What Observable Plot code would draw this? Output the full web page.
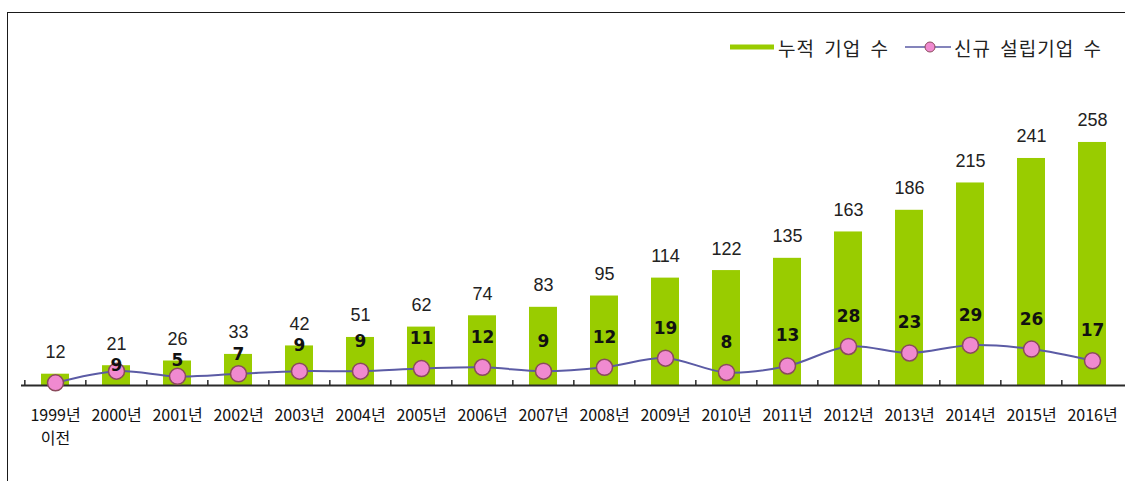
<!DOCTYPE html>
<html>
<head>
<meta charset="utf-8">
<script src="https://cdn.jsdelivr.net/npm/d3@7"></script>
<script src="https://cdn.jsdelivr.net/npm/@observablehq/plot@0.6"></script>
<style>
  html, body { margin: 0; padding: 0; background: #fff; overflow: hidden; }
  #wrap { position: relative; width: 1125px; height: 481px; }
  #frame { position: absolute; left: 7px; top: 12px; width: 2000px; height: 2000px;
           border: 1.5px solid #1a1a1a; pointer-events: none; }
  #legend { position: absolute; left: 0; top: 0; width: 1125px; height: 0;
            font-family: "Noto Sans CJK KR", sans-serif; font-size: 19px; color: #222; }
  #legend .item { position: absolute; top: 34px; height: 26px; display: flex; align-items: center; white-space: nowrap; word-spacing: 4px; letter-spacing: 1px; }
</style>
</head>
<body>
<div id="wrap">
  <div id="chart"></div>
  <div id="legend">
    <div class="item" style="left:730px">
      <svg width="44" height="26" style="margin-right:4px"><rect x="0" y="10.5" width="44" height="5" fill="#99cc00"></rect></svg>
      <span>누적 기업 수</span>
    </div>
    <div class="item" style="left:905px">
      <svg width="46" height="26" style="margin-right:3px"><line x1="0" x2="46" y1="13" y2="13" stroke="#5b5ba5" stroke-width="1.5"></line><circle cx="25" cy="13" r="5" fill="#f08ad0" stroke="#8a4a5c" stroke-width="1"></circle></svg>
      <span>신규 설립기업 수</span>
    </div>
  </div>
  <div id="frame"></div>
</div>
<script>
const years = ["1999년\n이전", "2000년", "2001년", "2002년", "2003년", "2004년", "2005년", "2006년", "2007년", "2008년", "2009년", "2010년", "2011년", "2012년", "2013년", "2014년", "2015년", "2016년"];
const totalFirms = [12, 21, 26, 33, 42, 51, 62, 74, 83, 95, 114, 122, 135, 163, 186, 215, 241, 258];
const newFirms = [0, 9, 5, 7, 9, 9, 11, 12, 9, 12, 19, 8, 13, 28, 23, 29, 26, 17];

const data = years.map((year, i) => ({year, total: totalFirms[i], fresh: newFirms[i]}));

// secondary axis mapped onto the primary y scale
const secondary = v => 2.8 + v * 1.38;
// new-firm label: above its dot, but not above the top of its bar
const labelY = d => Math.min(secondary(d.fresh) + 31.8, d.total);

const W = 1125, H = 481, ML = 21, MR = 0, MT = 102.4, MB = 96;
const step = (W - ML - MR) / years.length;

const chart = Plot.plot({
  width: W, height: H,
  marginLeft: ML, marginRight: MR, marginTop: MT, marginBottom: MB,
  style: {background: "transparent", overflow: "visible"},
  x: {domain: years, paddingInner: 0.543, paddingOuter: 0.2715, label: null},
  y: {domain: [0, 300], axis: null},
  marks: [
    Plot.barY(data, {x: "year", y: "total", fill: "#99cc00"}),
    Plot.ruleY([0], {stroke: "#2a2a2a", strokeWidth: 2}),
    Plot.ruleX(years, {x: d => d, dx: -step / 2, y1: 0, y2: 5.3, stroke: "#2a2a2a", strokeWidth: 1.5}),
    Plot.axisX({tickSize: 0, tickPadding: 19, fontSize: 16, lineHeight: 1.45, fill: "#111", label: null,
      fontFamily: "'Noto Sans CJK KR', sans-serif"}),
    Plot.text(data, {x: "year", y: "total", text: d => String(d.total), lineAnchor: "bottom", dy: -16,
      fontSize: 18, fontFamily: "'Liberation Sans', Arial, sans-serif", fill: "#222"}),
    Plot.line(data, {x: "year", y: d => secondary(d.fresh), stroke: "#5b5ba5", strokeWidth: 2, curve: "catmull-rom"}),
    Plot.dot(data, {x: "year", y: d => secondary(d.fresh), r: 8, fill: "#f08ad0", stroke: "#8a4a5c", strokeWidth: 1.5}),
    Plot.text(data.filter(d => d.fresh > 0), {x: "year", y: labelY, text: d => String(d.fresh),
      lineAnchor: "middle", fontSize: 17, fontWeight: "bold",
      fontFamily: "'DejaVu Sans', sans-serif", fill: "#111"})
  ]
});
document.getElementById("chart").appendChild(chart);
</script>
</body>
</html>
